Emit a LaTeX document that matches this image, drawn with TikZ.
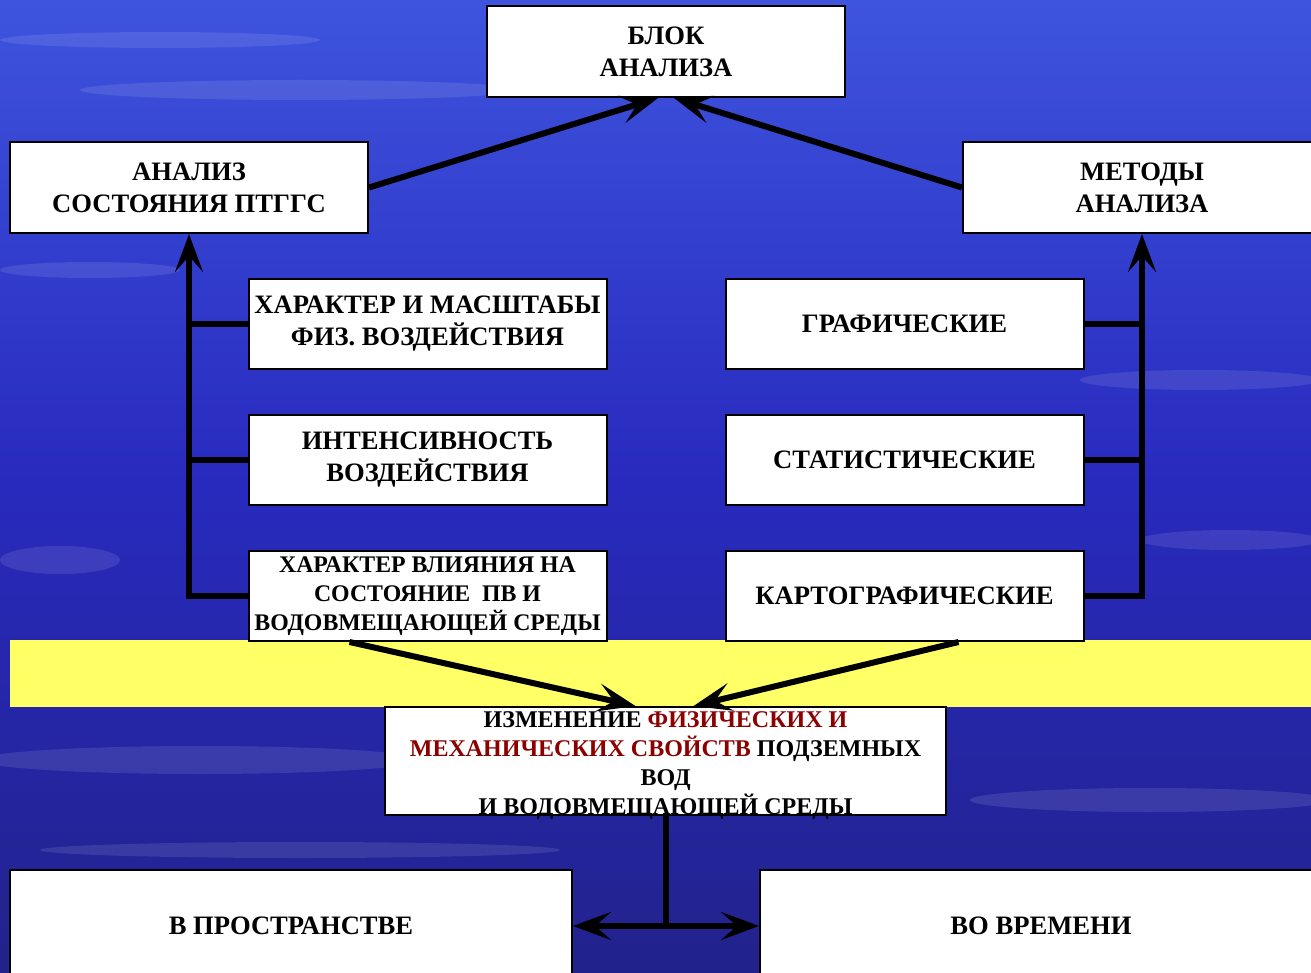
\documentclass[tikz,border=0pt]{standalone}
\usepackage{fontspec}
\setmainfont{Liberation Serif}
\usetikzlibrary{arrows.meta,calc}

\definecolor{skytop}{RGB}{62,84,222}
\definecolor{skymid}{RGB}{40,42,190}
\definecolor{skylow}{RGB}{34,34,140}
\definecolor{bandyellow}{RGB}{255,255,102}
\definecolor{propred}{RGB}{140,0,0}

\tikzset{
  box/.style={draw, line width=1pt, fill=white, inner sep=0pt, align=center,
    minimum width=179pt, minimum height=45.5pt,
    font=\bfseries\fontsize{13.3}{16}\selectfont},
  link/.style={line width=3pt},
  tip/.style={-{Stealth[length=19pt,width=14pt,inset=8pt]}},
  cloud/.style={fill=white, opacity=0.1}
}

\begin{document}
\begin{tikzpicture}[x=0.5pt,y=-0.5pt]
  \clip (0,0) rectangle (1311,973);
  \shade[top color=skytop, bottom color=skymid] (0,0) rectangle (1311,480);
  \shade[top color=skymid, bottom color=skylow] (0,480) rectangle (1311,973);
  \fill[cloud] (160,40) ellipse (160 and 8);
  \fill[cloud] (300,90) ellipse (220 and 10);
  \fill[cloud] (90,270) ellipse (90 and 8);
  \fill[cloud] (1200,380) ellipse (120 and 10);
  \fill[cloud] (60,560) ellipse (60 and 14);
  \fill[cloud] (1230,540) ellipse (90 and 10);
  \fill[cloud] (200,760) ellipse (220 and 14);
  \fill[cloud] (1150,800) ellipse (180 and 12);
  \fill[cloud] (300,850) ellipse (260 and 8);
  \fill[bandyellow] (10,640) rectangle (1311,707);

  \node[box] (blok) at (666,51.5) {БЛОК\\АНАЛИЗА};
  \node[box] (analiz) at (189,187.5) {АНАЛИЗ\\СОСТОЯНИЯ ПТГГС};
  \node[box] (metody) at (1142,187.5) {МЕТОДЫ\\АНАЛИЗА};

  \node[box, minimum height=45pt] (harakter) at (427.5,324) {ХАРАКТЕР И МАСШТАБЫ\\ФИЗ. ВОЗДЕЙСТВИЯ};
  \node[box, minimum height=45pt] (intens) at (427.5,460) {ИНТЕНСИВНОСТЬ\\ВОЗДЕЙСТВИЯ};
  \node[box, minimum height=45pt, font=\bfseries\fontsize{11.9}{14.5}\selectfont] (vliyan) at (427.5,596)
    {ХАРАКТЕР ВЛИЯНИЯ НА\\СОСТОЯНИЕ \ ПВ И\\ВОДОВМЕЩАЮЩЕЙ СРЕДЫ};
  \node[box, minimum height=45pt] (graf) at (904.5,324) {ГРАФИЧЕСКИЕ};
  \node[box, minimum height=45pt] (stat) at (904.5,460) {СТАТИСТИЧЕСКИЕ};
  \node[box, minimum height=45pt] (kart) at (904.5,596) {КАРТОГРАФИЧЕСКИЕ};

  \node[box, minimum width=280.5pt, minimum height=54pt] (izmen) at (665.5,761) {};
  \node[align=center, inner sep=0pt, font=\bfseries\fontsize{12}{14.5}\selectfont] (izmentext) at ($(izmen.center)+(0,5)$)
    {ИЗМЕНЕНИЕ \textcolor{propred}{ФИЗИЧЕСКИХ И}\\\textcolor{propred}{МЕХАНИЧЕСКИХ СВОЙСТВ} ПОДЗЕМНЫХ\\ВОД\\И ВОДОВМЕЩАЮЩЕЙ СРЕДЫ};

  \node[box, minimum width=281pt, minimum height=56pt] (prostr) at (291,926) {В ПРОСТРАНСТВЕ};
  \node[box, minimum width=281pt, minimum height=56pt] (vremya) at (1041,926) {ВО ВРЕМЕНИ};

  \draw[link,tip] (analiz.east) -- ($(blok.south)+(-8,0)$);
  \draw[link,tip] (metody.west) -- ($(blok.south)+(8,0)$);

  \draw[link,tip] (vliyan.west) -| (analiz.south);
  \draw[link] (harakter.west) -- (harakter.west -| analiz.south);
  \draw[link] (intens.west) -- (intens.west -| analiz.south);

  \draw[link,tip] (kart.east) -| (metody.south);
  \draw[link] (graf.east) -- (graf.east -| metody.south);
  \draw[link] (stat.east) -- (stat.east -| metody.south);

  \draw[link,tip] ($(vliyan.south)+(-78,0)$) -- ($(izmen.north)+(-30,0)$);
  \draw[link,tip] ($(kart.south)+(54,0)$) -- ($(izmen.north)+(28,0)$);

  \coordinate (fork) at (izmen.south |- prostr.east);
  \draw[link] (izmen.south) -- (fork);
  \draw[link,tip] (fork) -- (prostr.east);
  \draw[link,tip] (fork) -- (vremya.west);
\end{tikzpicture}
\end{document}
